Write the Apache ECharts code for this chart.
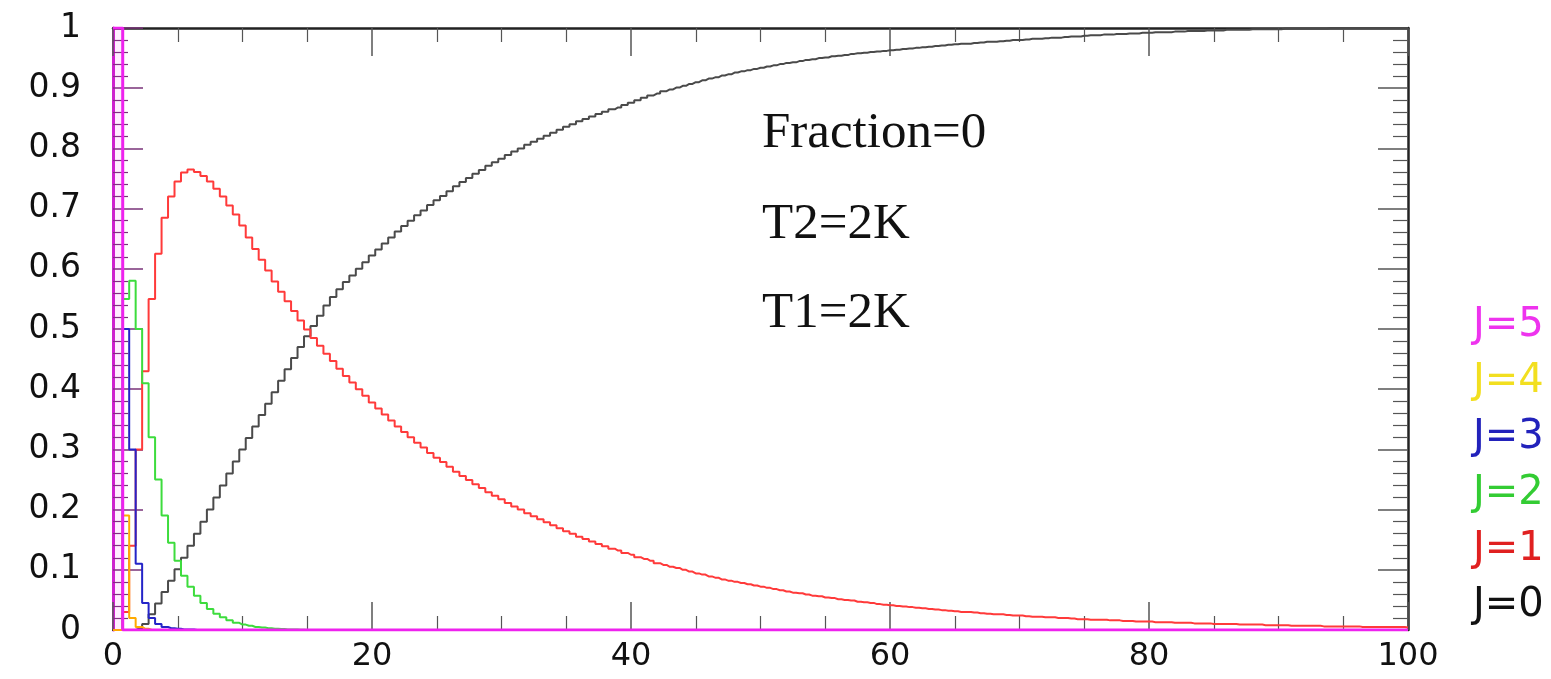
<!DOCTYPE html>
<html>
<head>
<meta charset="utf-8">
<script src="https://cdn.jsdelivr.net/npm/echarts@6/dist/echarts.min.js"></script>
<style>
html,body{margin:0;padding:0;background:#fff;}
#chart{width:1551px;height:679px;}
</style>
</head>
<body>
<div id="chart"></div>
<script>
// Histogram bins: centres every 0.5 from 0 to 100 (201 bins)
const binWidth = 0.5;
const nBins = 201;
const seriesNames = ['J=0', 'J=1', 'J=2', 'J=3', 'J=4', 'J=5'];

// J=0 (black)
const j0 = [
0,0,0,0,0.002,0.01,0.026,0.044,0.063,0.082,
0.101,0.12,0.14,0.16,0.18,0.2,0.22,0.24,0.26,0.28,
0.30,0.319,0.338,0.357,0.376,0.395,0.414,0.433,0.452,0.47,
0.488,0.505,0.522,0.539,0.553,0.566,0.578,0.589,0.600,0.611,
0.622,0.632,0.642,0.652,0.662,0.671,0.680,0.689,0.697,0.706,
0.714,0.721,0.729,0.737,0.744,0.751,0.758,0.764,0.771,0.777,
0.783,0.789,0.795,0.800,0.806,0.811,0.816,0.821,0.826,0.831,
0.836,0.840,0.845,0.849,0.853,0.857,0.861,0.865,0.868,0.872,
0.876,0.880,0.884,0.888,0.891,0.895,0.898,0.901,0.904,0.907,
0.910,0.913,0.916,0.918,0.921,0.923,0.926,0.928,0.930,0.932,
0.934,0.936,0.938,0.940,0.942,0.943,0.945,0.947,0.948,0.950,
0.951,0.953,0.954,0.955,0.957,0.958,0.959,0.960,0.961,0.962,
0.963,0.964,0.965,0.966,0.967,0.968,0.969,0.970,0.971,0.972,
0.973,0.974,0.974,0.975,0.976,0.977,0.977,0.978,0.979,0.980,
0.980,0.981,0.982,0.982,0.983,0.984,0.984,0.985,0.986,0.986,
0.987,0.988,0.988,0.989,0.989,0.990,0.990,0.991,0.991,0.992,
0.992,0.993,0.993,0.993,0.994,0.994,0.995,0.995,0.995,0.996,
0.996,0.996,0.997,0.997,0.997,0.997,0.998,0.998,0.998,0.998,
0.998,0.999,0.999,0.999,0.999,0.999,0.999,0.999,1.000,1.000,
1,1,1,1,1,1,1,1,1,1,
1
];

// J=1 (red)
const j1 = [
0,0,0.03,0.14,0.30,0.43,0.55,0.625,0.685,0.72,
0.745,0.76,0.765,0.761,0.754,0.745,0.733,0.72,0.705,0.69,
0.672,0.652,0.633,0.615,0.597,0.579,0.562,0.546,0.530,0.514,
0.499,0.485,0.472,0.459,0.447,0.434,0.422,0.411,0.400,0.389,
0.378,0.368,0.358,0.348,0.338,0.329,0.320,0.311,0.303,0.294,
0.286,0.279,0.271,0.263,0.256,0.249,0.242,0.236,0.229,0.223,
0.217,0.211,0.205,0.200,0.194,0.189,0.184,0.179,0.174,0.169,
0.164,0.160,0.155,0.151,0.147,0.143,0.139,0.135,0.132,0.128,
0.125,0.121,0.118,0.115,0.111,0.108,0.105,0.103,0.100,0.097,
0.094,0.092,0.089,0.087,0.084,0.082,0.080,0.078,0.076,0.074,
0.072,0.070,0.068,0.066,0.064,0.062,0.061,0.059,0.057,0.056,
0.054,0.053,0.051,0.050,0.049,0.047,0.046,0.045,0.043,0.042,
0.041,0.040,0.039,0.038,0.037,0.036,0.035,0.034,0.033,0.032,
0.031,0.030,0.030,0.029,0.028,0.027,0.026,0.026,0.025,0.024,
0.024,0.023,0.022,0.022,0.021,0.021,0.020,0.020,0.019,0.018,
0.018,0.017,0.017,0.017,0.016,0.016,0.015,0.015,0.014,0.014,
0.014,0.013,0.013,0.013,0.012,0.012,0.012,0.011,0.011,0.011,
0.010,0.010,0.010,0.010,0.009,0.009,0.009,0.009,0.008,0.008,
0.008,0.008,0.007,0.007,0.007,0.007,0.007,0.006,0.006,0.006,
0.006,0.006,0.006,0.005,0.005,0.005,0.005,0.005,0.005,0.005,
0.004
];

// J=2 (green) - remaining bins are zero
const j2 = [0,0,0.55,0.58,0.5,0.41,0.32,0.25,0.19,0.145,
0.115,0.09,0.072,0.057,0.045,0.035,0.027,0.021,0.016,0.012,
0.009,0.007,0.005,0.004,0.003,0.002,0.0015,0.001,0.001,0.0005];
// J=3 (blue)
const j3 = [0,0,0.5,0.3,0.11,0.045,0.02,0.01,0.005,0.003,0.002,0.001,0.001];
// J=4 (yellow/orange)
const j4 = [0,0,0.19,0.02,0.005,0.002];
// J=5 (magenta)
const j5 = [1,1];

function toPoints(vals) {
  const pts = [];
  for (let i = 0; i < nBins; i++) {
    pts.push([i * binWidth, i < vals.length ? vals[i] : 0]);
  }
  return pts;
}

const lineColors = ['#4a4a4a', '#ff3a3a', '#3ddc3d', '#2424c8', '#ffaa00', '#ee22ee'];
const textColors = ['#111111', '#e02020', '#33cc33', '#2222bb', '#f2df20', '#ee33ee'];
const allData = [j0, j1, j2, j3, j4, j5];

const chart = echarts.init(document.getElementById('chart'), null, {renderer: 'canvas'});

const axisFont = 'DejaVu Sans';
const tickColor = '#555';

const series = allData.map((d, i) => ({
  name: seriesNames[i],
  type: 'line',
  step: 'middle',
  data: toPoints(d),
  showSymbol: false,
  symbol: 'none',
  animation: false,
  lineStyle: {color: lineColors[i], width: i === 5 ? 3 : 2},
  itemStyle: {color: lineColors[i]},
  areaStyle: i === 5 ? {color: 'rgba(255,0,255,0.10)'} : undefined,
  z: 2 + i
}));

const legendOrder = ['J=5', 'J=4', 'J=3', 'J=2', 'J=1', 'J=0'];

chart.setOption({
  backgroundColor: '#ffffff',
  animation: false,
  grid: {left: 113, right: 143, top: 28, bottom: 49, containLabel: false},
  legend: {
    orient: 'vertical',
    left: 1463,
    top: 301,
    icon: 'none',
    itemWidth: 0,
    itemHeight: 40,
    itemGap: 16,
    selectedMode: false,
    textStyle: {fontFamily: axisFont, fontSize: 40, lineHeight: 40},
    data: legendOrder.map(n => ({
      name: n,
      textStyle: {color: textColors[seriesNames.indexOf(n)]}
    }))
  },
  xAxis: [{
    type: 'value', min: 0, max: 100, interval: 20, position: 'bottom',
    axisLine: {show: true, onZero: false, lineStyle: {color: '#222', width: 2}},
    axisTick: {show: true, inside: true, length: 28, lineStyle: {color: tickColor, width: 1.5}},
    minorTick: {show: true, splitNumber: 4, length: 14, lineStyle: {color: tickColor, width: 1.2}},
    axisLabel: {fontFamily: axisFont, fontSize: 32, color: '#111', margin: 11},
    splitLine: {show: false}
  }, {
    type: 'value', min: 0, max: 100, interval: 20, position: 'top',
    axisLine: {show: true, onZero: false, lineStyle: {color: '#222', width: 2.5}},
    axisTick: {show: true, inside: true, length: 28, lineStyle: {color: tickColor, width: 1.5}},
    minorTick: {show: true, splitNumber: 4, length: 14, lineStyle: {color: tickColor, width: 1.2}},
    axisLabel: {show: false},
    splitLine: {show: false}
  }],
  yAxis: [{
    type: 'value', min: 0, max: 1, interval: 0.1, position: 'left',
    axisLine: {show: true, onZero: false, lineStyle: {color: '#cc22cc', width: 3}},
    axisTick: {show: true, inside: true, length: 30, lineStyle: {color: '#7a337a', width: 1.5}},
    minorTick: {show: true, splitNumber: 5, length: 15, lineStyle: {color: '#7a337a', width: 1.2}},
    axisLabel: {fontFamily: axisFont, fontSize: 33, color: '#111', margin: 32},
    splitLine: {show: false}
  }, {
    type: 'value', min: 0, max: 1, interval: 0.1, position: 'right',
    axisLine: {show: true, onZero: false, lineStyle: {color: '#222', width: 2.5}},
    axisTick: {show: true, inside: true, length: 30, lineStyle: {color: tickColor, width: 1.5}},
    minorTick: {show: true, splitNumber: 5, length: 15, lineStyle: {color: tickColor, width: 1.2}},
    axisLabel: {show: false},
    splitLine: {show: false}
  }],
  graphic: [
    {type: 'text', left: 762, top: 108, silent: true,
     style: {text: 'Fraction=0', font: '51px "Liberation Serif"', fill: '#111'}},
    {type: 'text', left: 762, top: 199, silent: true,
     style: {text: 'T2=2K', font: '51px "Liberation Serif"', fill: '#111'}},
    {type: 'text', left: 762, top: 288, silent: true,
     style: {text: 'T1=2K', font: '51px "Liberation Serif"', fill: '#111'}}
  ],
  series: series
});
</script>
</body>
</html>
